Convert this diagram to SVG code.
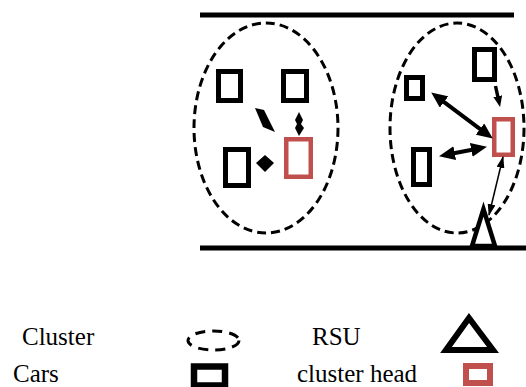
<svg xmlns="http://www.w3.org/2000/svg" width="526" height="387" viewBox="0 0 526 387">
<style>
.road{stroke:#000;stroke-width:5;fill:none}
.cl{fill:none;stroke:#000;stroke-width:3;stroke-dasharray:9 5}
.car{fill:#fff;stroke:#000;stroke-width:5}
.ch{fill:#fff;stroke:#c0504d;stroke-width:4.5}
.rsu{fill:#fff;stroke:#000;stroke-width:4.5;stroke-linejoin:miter}
.big{stroke:#000;stroke-width:4;fill:none;marker-start:url(#ah);marker-end:url(#ah)}
.thin{stroke:#000;stroke-width:1.5;fill:none;marker-start:url(#as);marker-end:url(#as)}
.lt{font-family:"Liberation Serif","Times New Roman",serif;font-size:25px;fill:#000}
</style>
<defs>
<marker id="ah" markerUnits="userSpaceOnUse" viewBox="0 0 16 14" markerWidth="16" markerHeight="14" refX="9" refY="7" orient="auto-start-reverse"><path d="M0,0 L16,7 L0,14 z" fill="#000"/></marker>
<marker id="am" markerUnits="userSpaceOnUse" viewBox="0 0 11 9" markerWidth="11" markerHeight="9" refX="6" refY="4.5" orient="auto"><path d="M0,0 L11,4.5 L0,9 z" fill="#000"/></marker>
<marker id="as" markerUnits="userSpaceOnUse" viewBox="0 0 12 8" markerWidth="12" markerHeight="8" refX="11" refY="4" orient="auto-start-reverse"><path d="M0,0 L12,4 L0,8 z" fill="#000"/></marker>
</defs>

<g id="road">
<line class="road" x1="200" y1="15" x2="514" y2="15"/>
<line class="road" x1="200" y1="248" x2="526" y2="248"/>
</g>

<g id="cluster-left"><ellipse class="cl" cx="266" cy="128" rx="72" ry="105"/></g>
<g id="cluster-right"><ellipse class="cl" cx="457" cy="128" rx="67" ry="105"/></g>

<g id="car-l1"><rect class="car" x="218.5" y="71.5" width="22" height="29"/></g>
<g id="car-l2"><rect class="car" x="283.5" y="71.5" width="23" height="29"/></g>
<g id="car-l3"><rect class="car" x="225.5" y="149.5" width="23" height="36"/></g>
<g id="head-l"><rect class="ch" x="286.25" y="139.25" width="24.5" height="37.5"/></g>

<g id="car-r1"><rect class="car" x="474.5" y="49.5" width="20" height="30"/></g>
<g id="car-r2"><rect class="car" x="406.5" y="77.5" width="16" height="21"/></g>
<g id="car-r3"><rect class="car" x="413.5" y="149.5" width="16" height="35"/></g>
<g id="head-r"><rect class="ch" x="494.25" y="119.25" width="18.5" height="35.5"/></g>

<g id="rsu"><polygon class="rsu" points="483.5,209 472,246 495,246"/></g>

<g id="connectors">
<polygon points="255,108 264,110 275,132 263,127" fill="#000"/>
<polygon points="299,112 303,120 301,124 304,128 299,136 295,128 297,124 295,120" fill="#000"/>
<polygon points="256,163 265,155 274,163 265,172" fill="#000"/>
<line class="big" x1="436.8" y1="96.6" x2="487.2" y2="134.4"/>
<line class="big" x1="445.9" y1="154.8" x2="480.1" y2="148.2"/>
<line x1="495.5" y1="86" x2="499" y2="102" stroke="#000" stroke-width="3.5" marker-end="url(#am)"/>
<line class="thin" x1="503" y1="157" x2="489" y2="215"/>
</g>

<g id="legend">
<text class="lt" x="22" y="345">Cluster</text>
<text class="lt" x="13" y="382">Cars</text>
<text class="lt" x="312" y="345">RSU</text>
<text class="lt" x="297" y="382">cluster head</text>
<ellipse cx="213.5" cy="340.5" rx="25.5" ry="9.5" fill="none" stroke="#000" stroke-width="3" stroke-dasharray="10 7"/>
<rect x="194" y="366.5" width="31" height="19" fill="#fff" stroke="#000" stroke-width="6.5"/>
<polygon points="469,318 446,350 493,350" fill="#fff" stroke="#000" stroke-width="6"/>
<rect x="466" y="366" width="24" height="17" fill="#fff" stroke="#c0504d" stroke-width="6"/>
</g>
</svg>
